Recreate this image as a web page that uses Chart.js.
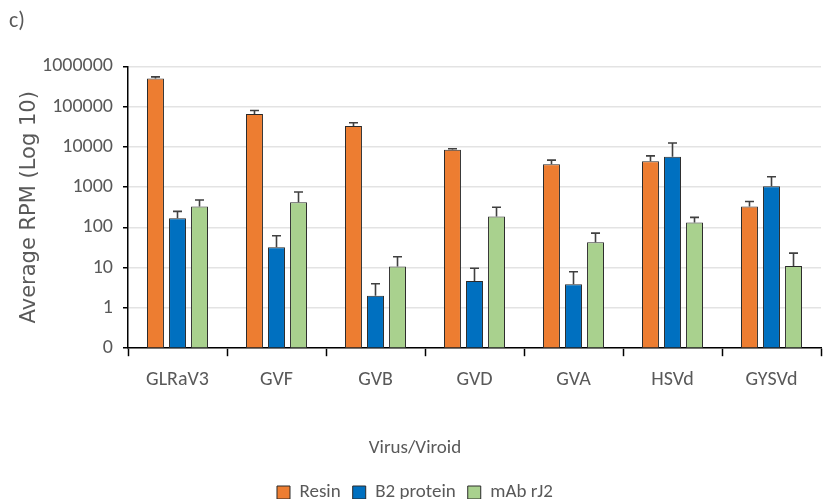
<!DOCTYPE html>
<html lang="en">
<head>
    <meta charset="UTF-8">
    <title>Average RPM by virus/viroid</title>
    <script src="https://cdn.jsdelivr.net/npm/chart.js"></script>
    <style>
        html, body { margin: 0; padding: 0; background: #fff; }
        #wrap { width: 827px; height: 499px; }
    </style>
</head>
<body>
    <div id="wrap"><canvas id="chartCanvas" width="827" height="499"></canvas></div>

    <script>
        const categories = ['GLRaV3', 'GVF', 'GVB', 'GVD', 'GVA', 'HSVd', 'GYSVd'];
        const resin = [500000, 66000, 33000, 8500, 3700, 4400, 330];
        const resinErr = [50000, 14000, 7000, 500, 1000, 1600, 110];
        const b2Protein = [170, 32, 2, 4.7, 3.9, 5700, 1060];
        const b2ProteinErr = [80, 30, 2, 5, 4, 6800, 750];
        const mAbRJ2 = [330, 420, 10.7, 188, 43, 133, 11];
        const mAbRJ2Err = [150, 340, 8, 130, 29, 45, 12];
        const yTicks = [0.1, 1, 10, 100, 1000, 10000, 100000, 1000000];

        const calibri = "Carlito, Calibri, sans-serif";
        const grey = '#595959';

        // upper error bars, drawn from each bar's value through the y scale
        const errorBars = {
            id: 'errorBars',
            afterDatasetsDraw(chart) {
                const ctx = chart.ctx;
                const y = chart.scales.y;
                ctx.save();
                ctx.strokeStyle = '#404040';
                ctx.lineWidth = 1.6;
                chart.data.datasets.forEach((ds, i) => {
                    const meta = chart.getDatasetMeta(i);
                    meta.data.forEach((bar, j) => {
                        const top = y.getPixelForValue(ds.data[j] + ds.errors[j]);
                        ctx.beginPath();
                        ctx.moveTo(bar.x, bar.y);
                        ctx.lineTo(bar.x, top);
                        ctx.moveTo(bar.x - 4.5, top);
                        ctx.lineTo(bar.x + 4.5, top);
                        ctx.stroke();
                    });
                });
                ctx.restore();
            }
        };

        const ctx = document.getElementById('chartCanvas').getContext('2d');
        const chart = new Chart(ctx, {
            type: 'bar',
            data: {
                labels: categories,
                datasets: [
                    { label: 'Resin', data: resin, errors: resinErr, backgroundColor: '#ED7D31' },
                    { label: 'B2 protein', data: b2Protein, errors: b2ProteinErr, backgroundColor: '#0070C0' },
                    { label: 'mAb rJ2', data: mAbRJ2, errors: mAbRJ2Err, backgroundColor: '#A9D18E' }
                ]
            },
            plugins: [errorBars],
            options: {
                responsive: false,
                animation: false,
                layout: { padding: { left: 9, right: 6, top: 2, bottom: -13 } },
                datasets: {
                    bar: {
                        borderColor: '#2a2a2a',
                        borderWidth: 1,
                        borderSkipped: false,
                        categoryPercentage: 0.667,
                        barPercentage: 0.77
                    }
                },
                plugins: {
                    tooltip: { enabled: false },
                    subtitle: {
                        display: true,
                        text: 'c)',
                        position: 'top',
                        align: 'start',
                        color: grey,
                        font: { family: calibri, size: 22 },
                        padding: { top: 6, bottom: 32 }
                    },
                    title: {
                        display: true,
                        text: 'Virus/Viroid',
                        position: 'bottom',
                        weight: 500,
                        color: grey,
                        font: { family: calibri, size: 19, weight: 'normal' },
                        padding: { top: 33, bottom: 11 }
                    },
                    legend: {
                        position: 'bottom',
                        weight: 1000,
                        labels: {
                            color: grey,
                            font: { family: calibri, size: 19 },
                            boxWidth: 13,
                            boxHeight: 13,
                            padding: 12
                        }
                    }
                },
                scales: {
                    x: {
                        grid: {
                            display: true,
                            offset: true,
                            drawOnChartArea: false,
                            drawTicks: true,
                            tickLength: 8,
                            tickColor: '#000',
                            tickWidth: 1.5
                        },
                        border: { color: '#000', width: 1.5 },
                        ticks: { color: grey, font: { family: calibri, size: 20 }, padding: 12 }
                    },
                    y: {
                        type: 'logarithmic',
                        min: 0.1,
                        max: 1000000,
                        afterBuildTicks: (scale) => {
                            scale.ticks = yTicks.map(v => ({ value: v }));
                        },
                        // fixed axis width so the plot starts at the same x every time
                        afterFit: (scale) => {
                            scale.width = 119;
                        },
                        grid: {
                            color: '#e3e3e3',
                            lineWidth: 1.5,
                            tickColor: '#000',
                            tickLength: 5,
                            tickWidth: 1.5
                        },
                        border: { color: '#000', width: 1.5 },
                        ticks: {
                            color: grey,
                            font: { family: calibri, size: 20 },
                            padding: 10,
                            autoSkip: false,
                            callback: (v) => v === 0.1 ? '0' : String(v)
                        },
                        title: {
                            display: true,
                            text: 'Average RPM (Log 10)',
                            color: grey,
                            font: { family: "'DejaVu Sans', sans-serif", size: 21 },
                            padding: { top: 8, bottom: 0 }
                        }
                    }
                }
            }
        });
    </script>
</body>
</html>
